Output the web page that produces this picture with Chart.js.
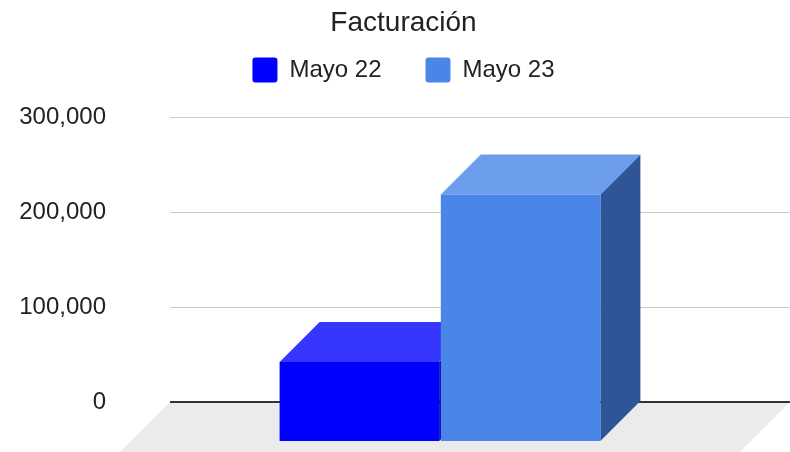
<!DOCTYPE html>
<html>
<head>
<meta charset="utf-8">
<script src="https://cdn.jsdelivr.net/npm/chart.js@4.4.1/dist/chart.umd.min.js"></script>
<style>
  html, body { margin: 0; padding: 0; background: #fff; }
  #wrap { width: 790px; height: 452px; }
</style>
</head>
<body>
<div id="wrap"><canvas id="chart"></canvas></div>
<script>
// datos
const categories = [''];
const seriesNames = ['Mayo 22', 'Mayo 23'];
const mayo22 = [84500];
const mayo23 = [261000];
const yTicks = [0, 100000, 200000, 300000];

// colores de las caras (frente, arriba, lado)
const frontColors = ['#0000ff', '#4a86e8'];
const topColors = ['#3636ff', '#6d9eeb'];
const sideColors = ['#0000a8', '#2e5597'];
const depth = 40;
const floorDepth = 50;
const font = "'Liberation Sans', Arial, sans-serif";

// suelo gris debajo del eje
const floorPlugin = {
    id: 'floor',
    beforeDraw(chart) {
        const { ctx, chartArea } = chart;
        const y0 = chart.scales.y.getPixelForValue(0);
        ctx.save();
        ctx.fillStyle = '#ebebeb';
        ctx.beginPath();
        ctx.moveTo(chartArea.left, y0);
        ctx.lineTo(chartArea.right, y0);
        ctx.lineTo(chartArea.right - floorDepth, y0 + floorDepth);
        ctx.lineTo(chartArea.left - floorDepth, y0 + floorDepth);
        ctx.closePath();
        ctx.fill();
        ctx.restore();
    }
};

// barras 3D: lado y tapa a mano, el frente lo dibuja Chart.js desplazado
const bars3d = {
    id: 'bars3d',
    beforeDatasetsDraw(chart) {
        const ctx = chart.ctx;
        chart.data.datasets.forEach((ds, i) => {
            const meta = chart.getDatasetMeta(i);
            meta.data.forEach(bar => {
                const { x, y, base, width } = bar.getProps(['x', 'y', 'base', 'width'], true);
                const l = x - width / 2;
                const r = x + width / 2;
                ctx.save();
                ctx.fillStyle = sideColors[i];
                ctx.beginPath();
                ctx.moveTo(r - depth, y + depth);
                ctx.lineTo(r, y);
                ctx.lineTo(r, base);
                ctx.lineTo(r - depth, base + depth);
                ctx.closePath();
                ctx.fill();
                ctx.fillStyle = topColors[i];
                ctx.beginPath();
                ctx.moveTo(l - depth, y + depth);
                ctx.lineTo(r - depth, y + depth);
                ctx.lineTo(r, y);
                ctx.lineTo(l, y);
                ctx.closePath();
                ctx.fill();
                ctx.restore();
            });
            ctx.save();
            ctx.translate(-depth, depth);
            meta.controller.draw();
            ctx.restore();
        });
    },
    beforeDatasetDraw() {
        return false;
    }
};

// espacio extra entre leyenda y grafico
const legendGap = {
    id: 'legendGap',
    beforeInit(chart) {
        const fit = chart.legend.fit;
        chart.legend.fit = function () {
            fit.call(this);
            this.height += 25;
        };
    }
};

new Chart(document.getElementById('chart'), {
    type: 'bar',
    data: {
        labels: categories,
        datasets: [
            { label: seriesNames[0], data: mayo22, backgroundColor: frontColors[0], borderWidth: 0 },
            { label: seriesNames[1], data: mayo23, backgroundColor: frontColors[1], borderWidth: 0 }
        ]
    },
    options: {
        responsive: true,
        maintainAspectRatio: false,
        animation: false,
        categoryPercentage: 0.52,
        barPercentage: 0.99,
        layout: { padding: { left: 17, right: 0, top: 0, bottom: 50 } },
        plugins: {
            title: {
                display: true,
                text: 'Facturación',
                color: '#222',
                font: { family: font, size: 28, weight: 'normal' },
                padding: { top: 6, bottom: -26 }
            },
            legend: {
                position: 'top',
                labels: {
                    boxWidth: 25,
                    boxHeight: 25,
                    useBorderRadius: true,
                    borderRadius: 3,
                    padding: 44,
                    color: '#222',
                    font: { family: font, size: 24 }
                }
            },
            tooltip: { enabled: false }
        },
        scales: {
            x: { display: false },
            y: {
                min: 0,
                max: 300000,
                afterBuildTicks(scale) {
                    scale.ticks = yTicks.map(v => ({ value: v }));
                },
                afterFit(scale) {
                    scale.width = 153;
                    scale.paddingTop = 14;
                    scale.paddingBottom = 14;
                },
                border: { display: false },
                grid: {
                    drawTicks: false,
                    color: c => c.tick.value === 0 ? '#333333' : '#cccccc',
                    lineWidth: c => c.tick.value === 0 ? 2 : 1
                },
                ticks: {
                    padding: 64,
                    color: '#222',
                    font: { family: font, size: 24 },
                    callback: v => v.toLocaleString('en-US')
                }
            }
        }
    },
    plugins: [floorPlugin, bars3d, legendGap]
});
</script>
</body>
</html>
